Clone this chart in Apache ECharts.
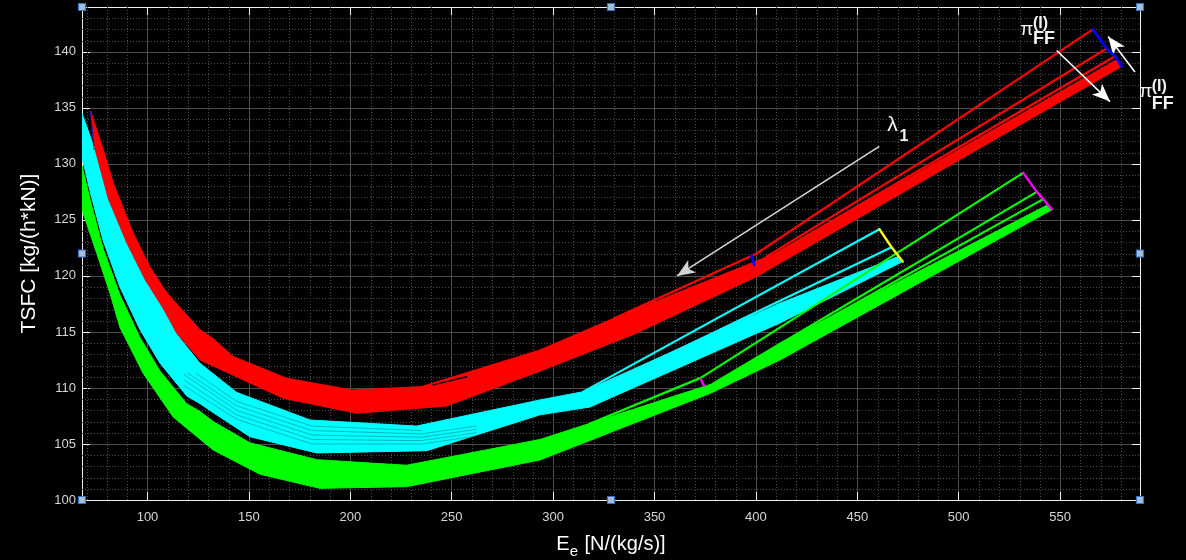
<!DOCTYPE html>
<html>
<head>
<meta charset="utf-8">
<script src="https://cdn.jsdelivr.net/npm/echarts@6/dist/echarts.min.js"></script>
<style>
  html, body { margin: 0; padding: 0; background: #000; }
  #chart { width: 1186px; height: 560px; }
</style>
</head>
<body>
<div id="chart"></div>
<script>
// ---- axes ----
const X_RANGE = [67.7, 589.4];
const Y_RANGE = [100, 144];
const X_TICKS = [100, 150, 200, 250, 300, 350, 400, 450, 500, 550];
const Y_TICKS = [100, 105, 110, 115, 120, 125, 130, 135, 140];

// ---- band outlines (E_e, TSFC) : upper and lower envelope of each curve family ----
const redUpper = [
  [72.0, 134.7], [78.2, 131.25], [83.1, 128.3], [93.0, 123.8], [101.2, 120.8],
  [109.5, 118.5], [125.9, 115.2], [132.4, 114.4], [142.3, 112.8], [168.6, 110.87],
  [200.7, 109.82], [235.2, 110.12], [293.5, 113.39], [328.0, 116.07], [411.9, 122.17],
  [577.9, 139.3]
];
const redLower = [
  [72.0, 134.7], [74.1, 131.35], [80.7, 126.9], [89.7, 123.0], [98.8, 119.7],
  [107.8, 117.1], [114.4, 114.9], [125.9, 112.5], [166.9, 109.08], [203.2, 107.74],
  [247.5, 108.39], [293.5, 111.5], [340.0, 114.8], [400.4, 119.94], [580.4, 138.7]
];
const cyanUpper = [
  [67.7, 134.5], [74.1, 131.25], [80.7, 126.8], [89.7, 122.9], [98.8, 119.6],
  [107.8, 117.0], [114.4, 114.8], [125.9, 112.2], [144.0, 109.6], [180.1, 107.14],
  [232.7, 106.6], [293.5, 108.93], [314.9, 109.67], [411.9, 117.56], [470.2, 121.73]
];
const cyanLower = [
  [67.7, 130.6], [72.0, 127.3], [78.2, 123.1], [86.4, 119.0], [96.3, 115.2],
  [106.2, 112.2], [119.3, 109.3], [125.9, 108.6], [132.4, 107.8], [150.5, 105.65],
  [183.4, 104.2], [237.7, 104.4], [293.5, 107.6], [318.2, 108.3], [411.9, 115.8],
  [472.4, 121.28]
];
const greenUpper = [
  [67.7, 129.8], [72.0, 126.6], [78.2, 122.4], [86.4, 118.3], [96.3, 114.5],
  [106.2, 111.5], [119.3, 108.6], [125.9, 107.9], [132.4, 107.0], [150.5, 105.1],
  [183.4, 103.6], [227.8, 103.1], [293.5, 105.4], [379.0, 110.4], [411.9, 114.0],
  [543.4, 126.3]
];
const greenLower = [
  [67.7, 125.9], [75.0, 122.0], [81.5, 118.45], [86.4, 115.4], [97.9, 111.3],
  [112.7, 107.4], [132.4, 104.46], [155.5, 102.3], [185.0, 101.04], [227.8, 101.19],
  [293.5, 103.57], [377.3, 109.5], [411.9, 112.5], [545.9, 125.9]
];

// ---- inner members of the cyan family (darker strokes inside the band) ----
const cyanInner = [
  [[118, 110.2], [144, 107.2], [181, 105.0], [235, 105.0], [262, 105.7]],
  [[118, 110.7], [144, 107.6], [181, 105.4], [235, 105.3], [262, 106.0]],
  [[118, 111.2], [144, 108.0], [181, 105.8], [235, 105.6], [262, 106.3]],
  [[120, 111.3], [144, 108.4], [181, 106.2], [235, 105.9], [262, 106.6]],
  [[124, 111.3], [144, 108.8], [181, 106.6], [235, 106.2]]
];

// ---- separated members of each family at high E_e ----
const redTop = [[330.0, 116.2], [400.4, 122.0], [566.1, 142.0]];
const redSecond = [[405.0, 121.7], [573.0, 140.3]];
const redThird = [[410.0, 122.0], [577.1, 139.6]];
const redGap = [[240.9, 110.27], [257.4, 111.0]];
const cyanTop = [[314.9, 109.67], [460.9, 124.17]];
const cyanSecond = [[320.0, 109.8], [466.9, 122.56]];
const greenTop = [[318.0, 106.8], [372.8, 110.9], [531.8, 129.2]];
const greenSecond = [[379.0, 110.4], [538.5, 127.5]];
const greenThird = [[395.0, 112.1], [541.7, 126.85]];

// ---- end-point connectors ----
const blueEnd = [[566.1, 142.0], [573.0, 140.3], [577.1, 139.6], [580.4, 138.7]];
const blueMid = [[397.8, 121.8], [399.2, 121.0]];
const blueStart = [[72.0, 134.6], [73.6, 131.3]];
const yellowEnd = [[460.9, 124.17], [466.9, 122.56], [472.4, 121.28]];
const magentaEnd = [[531.8, 129.2], [538.5, 127.5], [541.7, 126.85], [545.9, 125.95]];
const magentaMid = [[372.8, 110.8], [374.4, 110.2]];

// ---- annotation arrows ----
const lambdaArrow = [[460.85, 131.56], [361.1, 120.0]];
const piArrowDown = [[548.3, 140.12], [574.6, 135.56]];
const piArrowUp = [[586.9, 138.2], [573.7, 141.37]];

const FONT = '"Liberation Sans", Arial, Helvetica, sans-serif';
const GRID = { left: 82, top: 7, right: 46, bottom: 60 };
const W = 1186, H = 560;

const chart = echarts.init(document.getElementById('chart'), null, { renderer: 'canvas' });

// dotted minor grid every 10 (x) and every 1 (y)
const minorX = [];
for (let v = 70; v < X_RANGE[1]; v += 10) if (v % 50 !== 0) minorX.push(v);
const minorY = [];
for (let v = 101; v < Y_RANGE[1]; v += 1) if (v % 5 !== 0) minorY.push(v);

function minorGridSeries() {
  return {
    type: 'custom', silent: true, z: 1, clip: true, animation: false,
    data: [[X_RANGE[0], Y_RANGE[0]]],
    renderItem: function (params, api) {
      const children = [];
      const style = { stroke: '#4c4c4c', lineWidth: 1, lineDash: [1, 2] };
      minorX.forEach(function (v) {
        const a = api.coord([v, Y_RANGE[0]]), b = api.coord([v, Y_RANGE[1]]);
        const x = Math.round(a[0]) + 0.5;
        children.push({ type: 'line', shape: { x1: x, y1: a[1], x2: x, y2: b[1] }, style: style });
      });
      minorY.forEach(function (v) {
        const a = api.coord([X_RANGE[0], v]), b = api.coord([X_RANGE[1], v]);
        const y = Math.round(a[1]) + 0.5;
        children.push({ type: 'line', shape: { x1: a[0], y1: y, x2: b[0], y2: y }, style: style });
      });
      return { type: 'group', children: children };
    }
  };
}

function bandSeries(name, upper, lower, color) {
  const pts = upper.concat(lower.slice().reverse());
  return {
    type: 'custom', name: name, silent: true, z: 3, clip: true, animation: false,
    data: [pts[0]],
    renderItem: function (params, api) {
      return {
        type: 'polygon',
        shape: { points: pts.map(function (p) { return api.coord(p); }) },
        style: { fill: color, stroke: color, lineWidth: 1 }
      };
    }
  };
}

function lineSeries(pts, color, width, z, dash) {
  return {
    type: 'line', data: pts, symbol: 'none', showSymbol: false, clip: true,
    silent: true, z: z || 4, animation: false,
    lineStyle: { color: color, width: width, type: dash || 'solid', cap: 'round' },
    emphasis: { disabled: true }
  };
}

function arrowSeries(arrows) {
  return {
    type: 'line', data: [], silent: true, z: 6, animation: false,
    markLine: {
      silent: true, animation: false,
      symbol: ['none', 'arrow'], symbolSize: [11, 18],
      label: { show: false },
      data: arrows.map(function (a) {
        return [
          { coord: a.pts[0], lineStyle: { color: a.color, width: 1.6, type: 'solid' } },
          { coord: a.pts[1] }
        ];
      })
    }
  };
}

const axisLineStyle = { color: '#f0f0f0', width: 1 };

function annotationText(text, x, y, size, weight, align) {
  return {
    type: 'text', x: x, y: y, silent: true, z: 100,
    style: {
      text: text, fill: '#f2f2f2',
      font: (weight || 'normal') + ' ' + size + 'px ' + FONT,
      align: align || 'left', verticalAlign: 'middle'
    }
  };
}

function handle(cx, cy) {
  return {
    type: 'rect', silent: true, z: 100,
    shape: { x: cx - 3.5, y: cy - 3.5, width: 7, height: 7 },
    style: { fill: '#a9bdd6', stroke: '#3574c4', lineWidth: 1.2 }
  };
}

const gx0 = GRID.left, gx1 = W - GRID.right, gy0 = GRID.top, gy1 = H - GRID.bottom;
const gxm = (gx0 + gx1) / 2, gym = (gy0 + gy1) / 2;

const series = [
  minorGridSeries(),
  bandSeries('green', greenUpper, greenLower, '#00ff00'),
  bandSeries('cyan', cyanUpper, cyanLower, '#00ffff'),
  bandSeries('red', redUpper, redLower, '#ff0000')
];
cyanInner.forEach(function (pts) {
  series.push(lineSeries(pts, 'rgba(0,110,120,0.75)', 0.7, 4, [2, 1]));
});
series.push(
  lineSeries(redGap, '#000000', 1.4),
  lineSeries(redTop, '#ff0000', 2.2),
  lineSeries(redSecond, '#ff0000', 2.2),
  lineSeries(redThird, '#ff0000', 2.2),
  lineSeries(cyanTop, '#00ffff', 2.2),
  lineSeries(cyanSecond, '#00ffff', 2.2),
  lineSeries(greenTop, '#00ff00', 2.2),
  lineSeries(greenSecond, '#00ff00', 2.2),
  lineSeries(greenThird, '#00ff00', 2.2),
  lineSeries(blueEnd, '#0000ff', 2.8, 5),
  lineSeries(blueMid, '#0000ff', 2.8, 5),
  lineSeries(blueStart, '#1a1acc', 1.2, 5, 'dashed'),
  lineSeries(yellowEnd, '#ffff00', 2.4, 5),
  lineSeries(magentaEnd, '#ff00ff', 2.4, 5),
  lineSeries(magentaMid, '#ff00ff', 2.4, 5),
  arrowSeries([
    { pts: lambdaArrow, color: '#d4d4d4' },
    { pts: piArrowDown, color: '#ffffff' },
    { pts: piArrowUp, color: '#ffffff' }
  ])
);

const option = {
  backgroundColor: '#000',
  animation: false,
  grid: { left: GRID.left, top: GRID.top, right: GRID.right, bottom: GRID.bottom, outerBoundsMode: 'none', containLabel: false },
  xAxis: [{
    type: 'value', min: X_RANGE[0], max: X_RANGE[1], position: 'bottom',
    axisLine: { show: true, onZero: false, lineStyle: axisLineStyle },
    axisTick: { show: true, inside: true, length: 8, customValues: X_TICKS, lineStyle: axisLineStyle },
    axisLabel: { customValues: X_TICKS, color: '#d6d6d6', fontSize: 13, fontFamily: FONT, margin: 11 },
    splitLine: { show: true, lineStyle: { color: '#4d4d4d', width: 1 } },
    name: '{m|E}{s|e}{m| [N/(kg/s)]}',
    nameLocation: 'middle', nameGap: 30,
    nameTextStyle: {
      rich: {
        m: { fontSize: 20, color: '#ffffff', fontFamily: FONT },
        s: { fontSize: 15, color: '#ffffff', fontFamily: FONT, padding: [14, 1, 0, 0] }
      }
    }
  }, {
    type: 'value', min: X_RANGE[0], max: X_RANGE[1], position: 'top',
    axisLine: { show: true, onZero: false, lineStyle: axisLineStyle },
    axisTick: { show: true, inside: true, length: 8, customValues: X_TICKS, lineStyle: axisLineStyle },
    axisLabel: { show: false },
    splitLine: { show: false }
  }],
  yAxis: [{
    type: 'value', min: Y_RANGE[0], max: Y_RANGE[1], position: 'left',
    axisLine: { show: true, onZero: false, lineStyle: axisLineStyle },
    axisTick: { show: true, inside: true, length: 8, customValues: Y_TICKS, lineStyle: axisLineStyle },
    axisLabel: { customValues: Y_TICKS, color: '#d6d6d6', fontSize: 13, fontFamily: FONT, margin: 6 },
    splitLine: { show: true, lineStyle: { color: '#4d4d4d', width: 1 } },
    name: 'TSFC [kg/(h*kN)]',
    nameLocation: 'middle', nameGap: 42, nameRotate: 90,
    nameTextStyle: { fontSize: 21, color: '#ffffff', fontFamily: FONT }
  }, {
    type: 'value', min: Y_RANGE[0], max: Y_RANGE[1], position: 'right',
    axisLine: { show: true, onZero: false, lineStyle: axisLineStyle },
    axisTick: { show: true, inside: true, length: 8, customValues: Y_TICKS, lineStyle: axisLineStyle },
    axisLabel: { show: false },
    splitLine: { show: false }
  }],
  series: series,
  graphic: [
    annotationText('λ', 892.5, 125, 21, 'normal', 'center'),
    annotationText('1', 904, 136.5, 16, 'bold', 'center'),
    annotationText('π', 1026.7, 29.5, 19, 'normal', 'center'),
    annotationText('(I)', 1033, 23.5, 16, 'bold'),
    annotationText('FF', 1033, 39.5, 18, 'bold'),
    annotationText('π', 1145.8, 92, 19, 'normal', 'center'),
    annotationText('(I)', 1151.7, 86.5, 16, 'bold'),
    annotationText('FF', 1151.7, 104, 18, 'bold'),
    handle(gx0, gy0), handle(gxm, gy0), handle(gx1, gy0),
    handle(gx0, gym), handle(gx1, gym),
    handle(gx0, gy1), handle(gxm, gy1), handle(gx1, gy1)
  ]
};

chart.setOption(option);
</script>
</body>
</html>
